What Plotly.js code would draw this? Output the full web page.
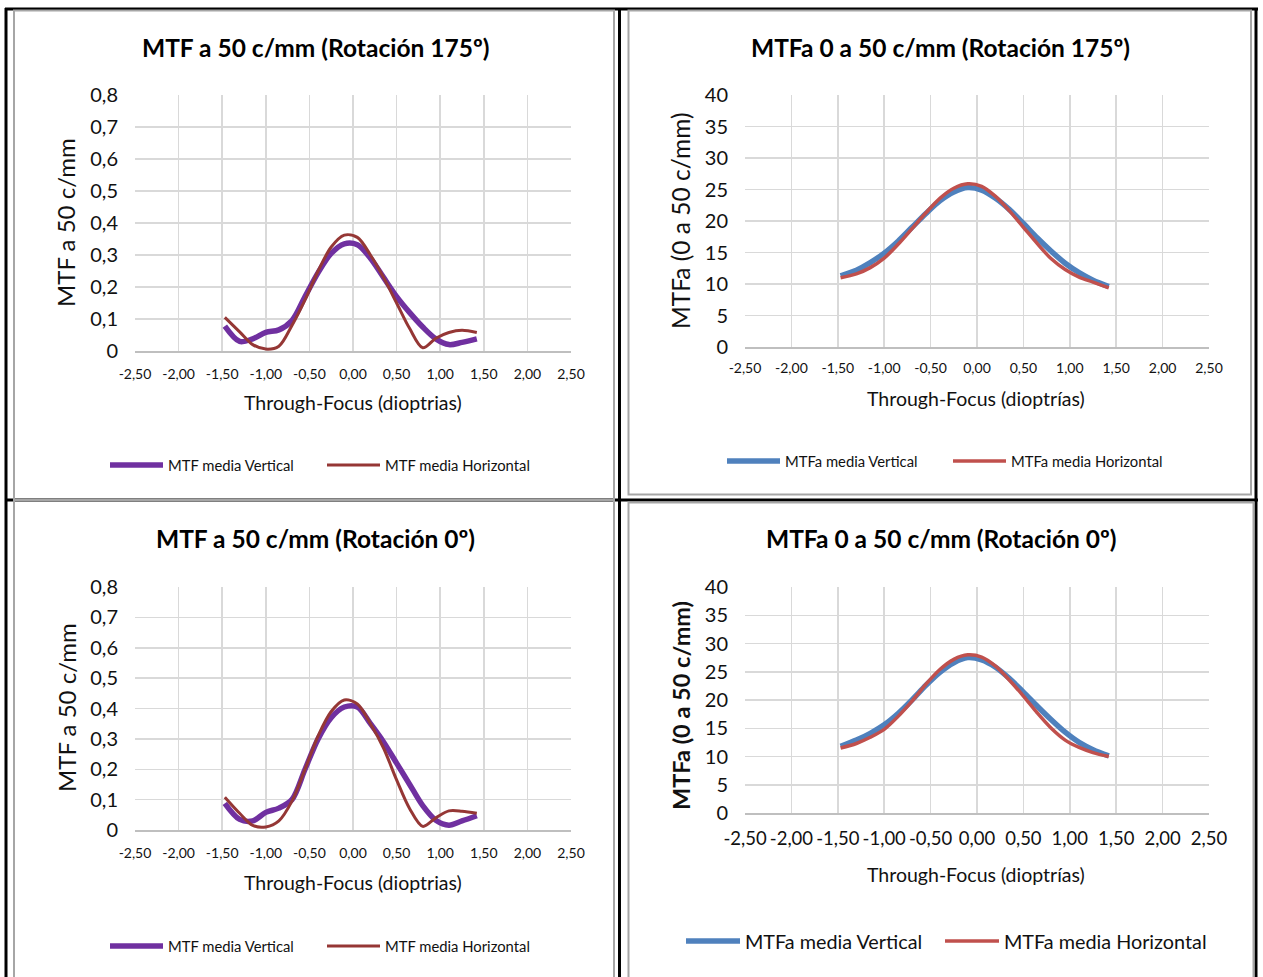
<!DOCTYPE html>
<html>
<head>
<meta charset="utf-8">
<script src="https://cdn.plot.ly/plotly-3.0.1.min.js"></script>
<style>
  html, body { margin: 0; padding: 0; background: #ffffff; }
  #fig { width: 1263px; height: 977px; }
</style>
</head>
<body>
<div id="fig"></div>
<script>
// Through-focus defocus positions (dioptres)
const focusD = [-1.47, -1.30, -1.15, -1.00, -0.85, -0.70, -0.55, -0.40, -0.25, -0.10,
                 0.05,  0.20,  0.35,  0.50,  0.65,  0.80,  0.95,  1.10,  1.25,  1.42];

// MTF at 50 c/mm, rotation 175º
const mtfVert175 = [0.078, 0.030, 0.038, 0.058, 0.066, 0.095, 0.170, 0.245, 0.305, 0.335,
                    0.332, 0.290, 0.230, 0.170, 0.120, 0.075, 0.038, 0.020, 0.027, 0.038];
const mtfHorz175 = [0.105, 0.060, 0.020, 0.006, 0.015, 0.080, 0.160, 0.250, 0.325, 0.362,
                    0.355, 0.300, 0.230, 0.150, 0.070, 0.010, 0.040, 0.058, 0.065, 0.058];

// MTF at 50 c/mm, rotation 0º
const mtfVert0 = [0.088, 0.035, 0.030, 0.058, 0.072, 0.100, 0.200, 0.300, 0.370, 0.405,
                  0.405, 0.350, 0.290, 0.220, 0.150, 0.080, 0.032, 0.016, 0.030, 0.047];
const mtfHorz0 = [0.108, 0.055, 0.015, 0.010, 0.030, 0.095, 0.200, 0.310, 0.390, 0.428,
                  0.415, 0.350, 0.270, 0.165, 0.070, 0.012, 0.040, 0.063, 0.062, 0.055];

// MTF area 0–50 c/mm, rotation 175º
const mtfaVert175 = [11.3, 12.2, 13.4, 14.9, 16.8, 19.0, 21.2, 23.2, 24.6, 25.3,
                     24.9, 23.6, 21.8, 19.6, 17.3, 15.2, 13.3, 11.8, 10.6, 9.6];
const mtfaHorz175 = [11.0, 11.6, 12.6, 14.1, 16.3, 18.8, 21.3, 23.6, 25.2, 25.9,
                     25.5, 23.9, 21.6, 19.0, 16.4, 14.0, 12.3, 11.1, 10.3, 9.4];

// MTF area 0–50 c/mm, rotation 0º
const mtfaVert0 = [11.8, 12.9, 14.1, 15.6, 17.6, 20.0, 22.6, 24.9, 26.6, 27.5,
                   27.1, 25.8, 23.8, 21.4, 18.9, 16.5, 14.3, 12.5, 11.2, 10.1];
const mtfaHorz0 = [11.5, 12.3, 13.4, 14.8, 17.1, 19.8, 22.8, 25.4, 27.2, 28.0,
                   27.6, 26.0, 23.5, 20.7, 17.7, 15.0, 12.9, 11.6, 10.7, 10.0];

// Tick labels (Spanish decimal comma)
const xTickVals = [-2.5, -2.0, -1.5, -1.0, -0.5, 0.0, 0.5, 1.0, 1.5, 2.0, 2.5];
const xTickText = ["-2,50", "-2,00", "-1,50", "-1,00", "-0,50", "0,00", "0,50", "1,00", "1,50", "2,00", "2,50"];
const mtfTickVals = [0, 0.1, 0.2, 0.3, 0.4, 0.5, 0.6, 0.7, 0.8];
const mtfTickText = ["0", "0,1", "0,2", "0,3", "0,4", "0,5", "0,6", "0,7", "0,8"];
const mtfaTickVals = [0, 5, 10, 15, 20, 25, 30, 35, 40];
const mtfaTickText = ["0", "5", "10", "15", "20", "25", "30", "35", "40"];

// Series names
const nameMtfV = "MTF media Vertical";
const nameMtfH = "MTF media Horizontal";
const nameMtfaV = "MTFa media Vertical";
const nameMtfaH = "MTFa media Horizontal";

// ---- styling ----
const W = 1263, H = 977;
const FONT = "Lato, 'Open Sans', sans-serif";
const TXT = "#111111";
const GRID = "#d9d9d9";
const PURPLE = "#7030a0", DARKRED = "#953735", BLUE = "#4f81bd", RED = "#c0504d";

const px = v => v / W;          // pixel -> paper x
const py = v => 1 - v / H;      // pixel -> paper y

function series(x, y, name, color, width, xa, ya) {
  return { type: "scatter", mode: "lines", x: x, y: y, name: name,
           xaxis: xa, yaxis: ya, showlegend: false, hoverinfo: "x+y",
           line: { color: color, width: width, shape: "spline", smoothing: 0.9 } };
}

const traces = [
  series(focusD, mtfVert175, nameMtfV, PURPLE, 5.5, "x", "y"),
  series(focusD, mtfHorz175, nameMtfH, DARKRED, 3, "x", "y"),
  series(focusD, mtfaVert175, nameMtfaV, BLUE, 5.5, "x2", "y2"),
  series(focusD, mtfaHorz175, nameMtfaH, RED, 3.5, "x2", "y2"),
  series(focusD, mtfVert0, nameMtfV, PURPLE, 5.5, "x3", "y3"),
  series(focusD, mtfHorz0, nameMtfH, DARKRED, 3, "x3", "y3"),
  series(focusD, mtfaVert0, nameMtfaV, BLUE, 5.5, "x4", "y4"),
  series(focusD, mtfaHorz0, nameMtfaH, RED, 3.5, "x4", "y4")
];

function xAxis(l, r, anchor, fsize, standoff) {
  return { domain: [px(l), px(r)], anchor: anchor, range: [-2.5, 2.5],
           tickmode: "array", tickvals: xTickVals, ticktext: xTickText, tickangle: 0,
           showgrid: true, gridcolor: GRID, gridwidth: 1.5, zeroline: false,
           showline: true, linecolor: "#bfbfbf", linewidth: 1.5, ticks: "",
           ticklabelstandoff: standoff, fixedrange: true,
           tickfont: { family: FONT, size: fsize, color: TXT } };
}
function yAxis(top, bottom, anchor, range, vals, text, fsize, standoff) {
  return { domain: [py(bottom), py(top)], anchor: anchor, range: range,
           tickmode: "array", tickvals: vals, ticktext: text,
           showgrid: true, gridcolor: GRID, gridwidth: 1.5, zeroline: false,
           showline: false, ticks: "", ticklabelstandoff: standoff, fixedrange: true,
           tickfont: { family: FONT, size: fsize, color: TXT } };
}

const layout = {
  width: W, height: H,
  margin: { l: 0, r: 0, t: 0, b: 0, pad: 0 },
  paper_bgcolor: "#ffffff", plot_bgcolor: "#ffffff",
  showlegend: false,
  xaxis:  xAxis(135, 571, "y", 14, 10),
  yaxis:  yAxis(95, 351, "x", [0, 0.8], mtfTickVals, mtfTickText, 20, 16),
  xaxis2: xAxis(745, 1209, "y2", 14, 8),
  yaxis2: yAxis(95, 347, "x2", [0, 40], mtfaTickVals, mtfaTickText, 20, 16),
  xaxis3: xAxis(135, 571, "y3", 14, 10),
  yaxis3: yAxis(587, 830, "x3", [0, 0.8], mtfTickVals, mtfTickText, 20, 16),
  xaxis4: xAxis(745, 1209, "y4", 18.5, 8),
  yaxis4: yAxis(587, 813, "x4", [0, 40], mtfaTickVals, mtfaTickText, 20, 16),
  shapes: [],
  annotations: []
};

// table rules and chart frames
function hline(x0, x1, y, color, w) {
  layout.shapes.push({ type: "line", xref: "paper", yref: "paper", x0: px(x0), x1: px(x1),
                       y0: py(y), y1: py(y), line: { color: color, width: w } });
}
function vline(x, y0, y1, color, w) {
  layout.shapes.push({ type: "line", xref: "paper", yref: "paper", x0: px(x), x1: px(x),
                       y0: py(y0), y1: py(y1), line: { color: color, width: w } });
}
function frame(x0, y0, x1, y1) {
  layout.shapes.push({ type: "rect", xref: "paper", yref: "paper",
                       x0: px(x0), x1: px(x1), y0: py(y1), y1: py(y0),
                       line: { color: "#a6a6a6", width: 2 }, fillcolor: "rgba(0,0,0,0)" });
}
hline(5, 1258, 9, "#000000", 3);
vline(6, 8, 980, "#000000", 3);
vline(1256, 8, 980, "#000000", 3);
vline(619.5, 8, 980, "#000000", 3);
hline(5, 1258, 500, "#000000", 3);
frame(14, 10.5, 614, 500);
frame(628.5, 10.5, 1251, 494.5);
frame(14, 500, 614, 985);
frame(628.5, 502.5, 1253.5, 985);

function text(t, x, y, size, opts) {
  const o = Object.assign({ bold: false, angle: 0, anchor: "center", color: TXT }, opts || {});
  layout.annotations.push({ xref: "paper", yref: "paper", x: px(x), y: py(y),
    text: o.bold ? "<b>" + t + "</b>" : t, showarrow: false, textangle: o.angle,
    xanchor: o.anchor, yanchor: "middle",
    font: { family: FONT, size: size, color: o.color } });
}

// chart titles
text("MTF a 50 c/mm (Rotación 175º)", 315, 47, 24.5, { bold: true, color: "#000000" });
text("MTFa 0 a 50 c/mm (Rotación 175º)", 940, 47, 24.5, { bold: true, color: "#000000" });
text("MTF a 50 c/mm (Rotación 0º)", 315, 538, 24.5, { bold: true, color: "#000000" });
text("MTFa 0 a 50 c/mm (Rotación 0º)", 941, 538, 24.5, { bold: true, color: "#000000" });

// axis titles
text("MTF a 50 c/mm", 66, 223, 24, { angle: -90 });
text("Through-Focus (dioptrias)", 353, 403, 19.5);
text("MTFa (0 a 50 c/mm)", 681, 221, 24.5, { angle: -90 });
text("Through-Focus (dioptrías)", 976, 398, 19.5);
text("MTF a 50 c/mm", 66, 708, 24, { angle: -90 });
text("Through-Focus (dioptrias)", 353, 882, 19.5);
text("MTFa (0 a 50 c/mm)", 681, 706, 23.5, { angle: -90, bold: true });
text("Through-Focus (dioptrías)", 976, 874, 19.5);

// legends
function key(x0, x1, y, color, w, label, size) {
  layout.shapes.push({ type: "line", xref: "paper", yref: "paper", x0: px(x0), x1: px(x1),
                       y0: py(y), y1: py(y), line: { color: color, width: w } });
  text(label, x1 + 3, y, size, { anchor: "left" });
}
key(110, 163, 465, PURPLE, 5.5, nameMtfV, 14.8);
key(327, 380, 465, DARKRED, 3, nameMtfH, 14.8);
key(727, 780, 461, BLUE, 5.5, nameMtfaV, 14.8);
key(953, 1006, 461, RED, 3.5, nameMtfaH, 14.8);
key(110, 163, 946, PURPLE, 5.5, nameMtfV, 14.8);
key(327, 380, 946, DARKRED, 3, nameMtfH, 14.8);
key(686, 740, 941, BLUE, 5.5, nameMtfaV, 19.8);
key(945, 999, 941, RED, 3.5, nameMtfaH, 19.8);

Plotly.newPlot("fig", traces, layout, { staticPlot: true, displayModeBar: false });
</script>
</body>
</html>
